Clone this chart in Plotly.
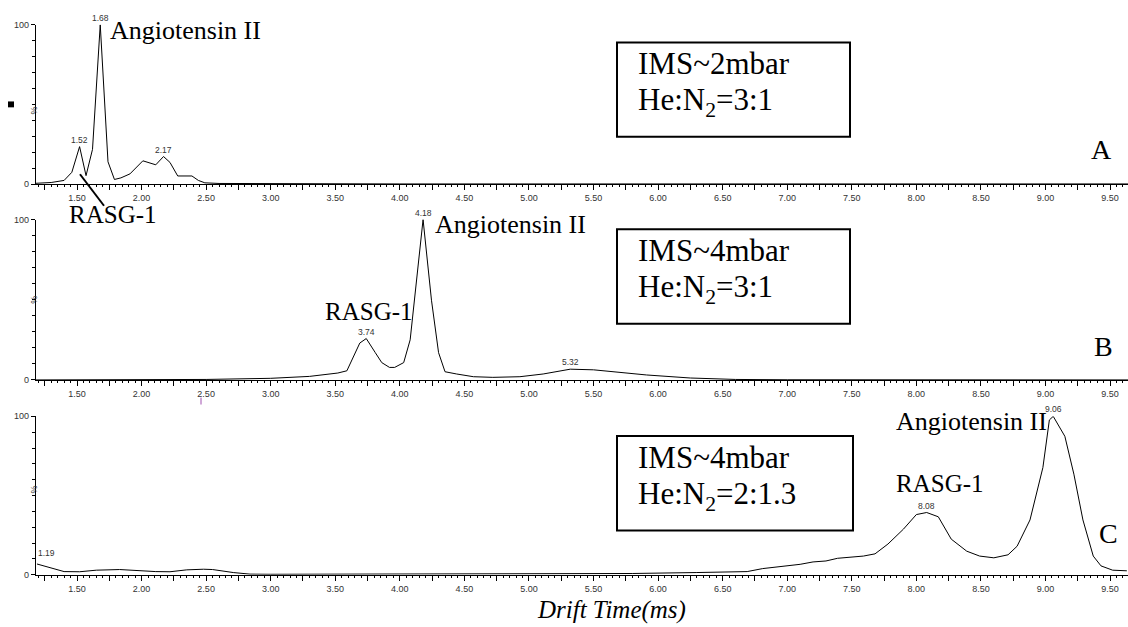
import plotly.graph_objects as go

# ---- drift-time spectra (x in ms, y in % of base peak) ----
A_X = [1.18, 1.30, 1.40, 1.46, 1.52, 1.57, 1.62, 1.68, 1.74, 1.79, 1.84, 1.91,
       2.01, 2.11, 2.17, 2.22, 2.28, 2.39, 2.44, 2.49, 2.60, 2.80, 3.00, 4.00,
       5.00, 6.00, 7.00, 8.00, 8.30, 8.60, 9.00, 9.64]
A_Y = [0.5, 1.0, 2.3, 7.4, 23.5, 5.3, 21.8, 100.0, 14.0, 2.9, 3.9, 6.4,
       14.6, 12.1, 17.3, 13.6, 5.1, 5.1, 2.3, 0.8, 0.4, 0.3, 0.2, 0.1,
       0.1, 0.1, 0.1, 0.1, 0.3, 0.5, 0.3, 0.1]

B_X = [1.18, 2.00, 2.50, 3.00, 3.30, 3.52, 3.59, 3.69, 3.74, 3.81, 3.86, 3.92,
       3.96, 4.03, 4.08, 4.18, 4.245, 4.30, 4.35, 4.44, 4.57, 4.72, 4.93, 5.11,
       5.26, 5.32, 5.50, 5.68, 5.91, 6.25, 6.60, 7.00, 8.00, 9.64]
B_Y = [0.0, 0.0, 0.3, 1.0, 2.2, 4.3, 5.7, 23.0, 25.8, 17.0, 10.8, 7.8,
       7.8, 10.8, 25.0, 100.0, 49.7, 17.0, 5.1, 3.7, 2.0, 1.6, 2.0, 3.7,
       6.1, 6.7, 6.3, 4.7, 3.1, 1.2, 0.3, 0.1, 0.0, 0.0]

C_X = [1.19, 1.40, 1.52, 1.65, 1.83, 1.99, 2.11, 2.22, 2.35, 2.48, 2.55, 2.71,
       2.84, 3.00, 3.50, 4.00, 4.50, 5.00, 5.40, 5.80, 6.30, 6.69, 6.81, 7.00,
       7.10, 7.20, 7.30, 7.39, 7.49, 7.59, 7.68, 7.78, 7.90, 8.00, 8.08, 8.17,
       8.27, 8.39, 8.49, 8.60, 8.71, 8.78, 8.88, 8.98, 9.03, 9.06, 9.15, 9.22,
       9.29, 9.37, 9.43, 9.52, 9.63]
C_Y = [6.8, 2.0, 1.9, 2.9, 3.3, 2.5, 2.0, 1.9, 3.1, 3.5, 3.3, 1.4,
       0.4, 0.3, 0.4, 0.3, 0.3, 0.4, 0.5, 0.8, 1.4, 2.0, 3.9, 5.6,
       6.6, 8.1, 8.7, 10.4, 11.2, 11.8, 13.2, 19.4, 28.8, 38.0, 39.3, 36.6,
       22.5, 14.9, 11.8, 10.7, 12.6, 18.0, 34.6, 67.7, 97.7, 100.0, 87.4, 63.5,
       34.6, 11.8, 5.6, 2.9, 2.5]

# labelled peak apexes per panel
A_PEAKS = [1.52, 1.68, 2.17]
B_PEAKS = [3.74, 4.18, 5.32]
C_PEAKS = [1.19, 8.08, 9.06]

X_TICK_LABELS = ["1.50", "2.00", "2.50", "3.00", "3.50", "4.00", "4.50", "5.00",
                 "5.50", "6.00", "6.50", "7.00", "7.50", "8.00", "8.50", "9.00",
                 "9.50"]
Y_TICK_LABELS = ["0", "100"]

CONDITIONS = [
    ("IMS~2mbar", "He:N<sub>2</sub>=3:1"),
    ("IMS~4mbar", "He:N<sub>2</sub>=3:1"),
    ("IMS~4mbar", "He:N<sub>2</sub>=2:1.3"),
]
PANEL_TAGS = ["A", "B", "C"]

# ---- page geometry (pixels) ----
W, H = 1128, 627
X_RANGE = [1.1825, 9.639]
AX_LEFT = 36
# (y of 0 %, y of 100 %) for each panel
PANEL_Y = [(182, 20), (381, 218), (579, 418)]

SERIF = "Liberation Serif, Times New Roman, serif"
SANS = "Liberation Sans, Arial, sans-serif"


def px(x):
    return x / W


def py(y):
    return 1 - y / H


tickvals, ticktext = [], []
for lab in X_TICK_LABELS:
    v = float(lab)
    tickvals += [v - 0.25, v]
    ticktext += ["", lab]

fig = go.Figure()
series = [(A_X, A_Y, A_PEAKS), (B_X, B_Y, B_PEAKS), (C_X, C_Y, C_PEAKS)]
annotations = []
shapes = []
layout = {}

for i, (xs, ys, peaks) in enumerate(series):
    n = i + 1
    xa = "x" if n == 1 else f"x{n}"
    ya = "y" if n == 1 else f"y{n}"
    fig.add_trace(go.Scatter(x=xs, y=ys, mode="lines", xaxis=xa, yaxis=ya,
                             line=dict(color="black", width=1),
                             showlegend=False, hoverinfo="skip"))
    y0, y100 = PANEL_Y[i]
    layout[f"xaxis{'' if n == 1 else n}"] = dict(
        domain=[px(AX_LEFT), 1], range=X_RANGE, anchor=ya,
        showline=True, linecolor="black", linewidth=1.3,
        showgrid=False, zeroline=False,
        ticks="outside", ticklen=5, tickwidth=1, tickcolor="black",
        tickmode="array", tickvals=tickvals, ticktext=ticktext,
        tickfont=dict(family=SANS, size=9, color="#333"),
        minor=dict(ticks="outside", ticklen=2, tickwidth=1,
                   tickcolor="black", dtick=0.05, tick0=0, showgrid=False),
    )
    layout[f"yaxis{'' if n == 1 else n}"] = dict(
        domain=[py(y0), py(y100)], range=[0, 100], anchor=xa,
        showline=True, linecolor="black", linewidth=1.3,
        showgrid=False, zeroline=False,
        ticks="outside", ticklen=4, tickwidth=1, tickcolor="black",
        tickmode="array", tickvals=[0, 100], ticktext=Y_TICK_LABELS,
        tickfont=dict(family=SANS, size=9, color="#333"),
        minor=dict(ticks="outside", ticklen=3, tickwidth=1, tickcolor="black",
                   tickvals=[10, 20, 30, 40, 50, 60, 70, 80, 90], showgrid=False),
    )
    # peak apex values
    for p in peaks:
        yv = ys[xs.index(p)]
        edge = p < 1.3
        annotations.append(dict(
            x=p, y=yv, xref=xa, yref=ya, text=f"{p:.2f}", showarrow=False,
            xanchor="left" if edge else "center", yanchor="bottom",
            xshift=-1 if edge else 0, yshift=4 if edge else 0,
            font=dict(family=SANS, size=8.5, color="#333")))
    # "%" axis caption
    annotations.append(dict(
        x=px(27), y=py((y0 + y100) / 2), xref="paper", yref="paper",
        text="%", textangle=-90, showarrow=False,
        font=dict(family=SANS, size=9, color="#333")))


def text_at(left, baseline, txt, size, xanchor="left"):
    # place a serif label by its baseline
    annotations.append(dict(
        x=px(left), y=py(baseline - 1.19 * size), xref="paper", yref="paper",
        text=txt, showarrow=False, xanchor=xanchor, yanchor="top",
        font=dict(family=SERIF, size=size, color="black")))


# compound labels
text_at(108, 40, "Angiotensin II", 26)
text_at(67, 227, "RASG-1", 25)
text_at(433, 237, "Angiotensin II", 26)
text_at(323, 325, "RASG-1", 25)
text_at(894, 437, "Angiotensin II", 26)
text_at(894, 500, "RASG-1", 25)

# leader from RASG-1 label to its peak in panel A
shapes.append(dict(type="line", xref="paper", yref="paper",
                   x0=px(80), y0=py(172), x1=px(104), y1=py(204),
                   line=dict(color="black", width=2)))

# condition boxes
BOXES = [(617, 38, 850, 134), (617, 228, 850, 324), (617, 438, 853, 534)]
LINE_BASE = [(77, 113), (267, 303), (477, 513)]
for (x0, y0b, x1, y1b), (b1, b2), (l1, l2) in zip(BOXES, LINE_BASE, CONDITIONS):
    shapes.append(dict(type="rect", xref="paper", yref="paper",
                       x0=px(x0), x1=px(x1), y0=py(y1b), y1=py(y0b),
                       line=dict(color="black", width=2)))
    text_at(636, b1, l1, 31)
    text_at(636, b2, l2, 31)

# panel tags
for tag, (right, base) in zip(PANEL_TAGS, [(1114, 162), (1115, 363), (1120, 553)]):
    text_at(right, base, tag, 28, xanchor="right")

# small marks
shapes.append(dict(type="rect", xref="paper", yref="paper",
                   x0=px(8), x1=px(14), y0=py(104), y1=py(98),
                   fillcolor="black", line=dict(width=0)))
shapes.append(dict(type="line", xref="paper", yref="paper",
                   x0=px(201), x1=px(201), y0=py(406), y1=py(399),
                   line=dict(color="#a050b0", width=1)))

# x-axis title
annotations.append(dict(
    x=px(611), y=py(621 - 0.891 * 25), xref="paper", yref="paper",
    text="<i>Drift Time(ms)</i>", showarrow=False, xanchor="center",
    yanchor="top", font=dict(family=SERIF, size=25, color="black")))

fig.update_layout(
    width=W, height=H, autosize=False,
    margin=dict(l=0, r=0, t=0, b=0, pad=0),
    paper_bgcolor="white", plot_bgcolor="white",
    annotations=annotations, shapes=shapes, **layout)

fig.write_html("out.html")
